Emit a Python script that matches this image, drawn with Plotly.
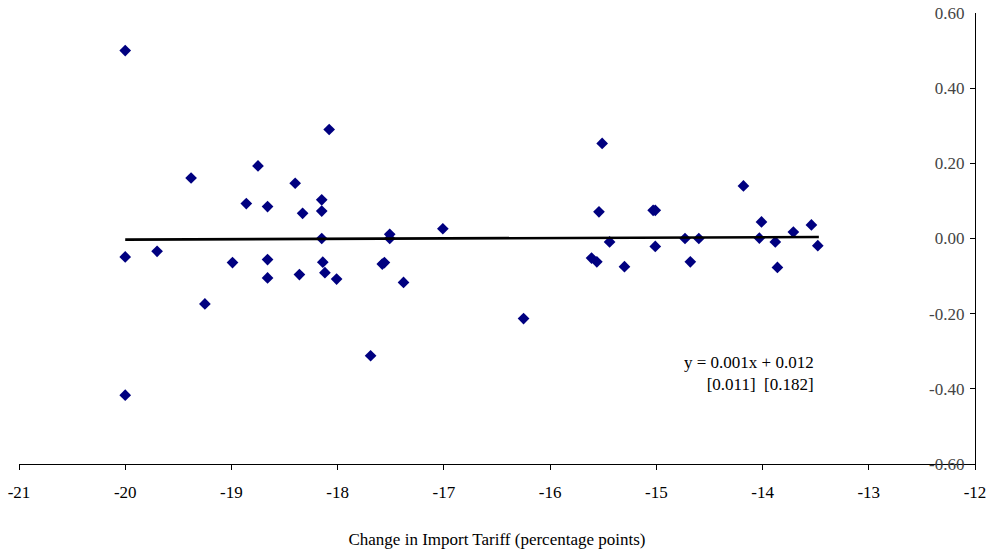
import plotly.graph_objects as go

# Scatter data: change in import tariff (pp) vs. outcome
tariff_change = [
    -20.00, -18.08, -18.75, -19.38, -18.40, -18.15, -18.86, -18.66, -18.33, -18.15,
    -18.15, -20.00, -19.70, -18.99, -18.66, -18.66, -18.36, -18.14, -18.12, -18.01,
    -19.25, -20.00, -17.51, -17.51, -17.01, -17.58, -17.56, -17.38, -16.25, -17.69,
    -15.51, -15.54, -15.03, -15.01, -15.44, -15.61, -15.56, -15.30, -15.01, -14.73,
    -14.60, -14.68, -14.18, -14.01, -14.03, -13.88, -13.86, -13.71, -13.54, -13.48,
]
outcome = [
    0.500, 0.290, 0.193, 0.161, 0.147, 0.103, 0.093, 0.085, 0.067, 0.073,
    0.000, -0.049, -0.034, -0.064, -0.056, -0.105, -0.096, -0.063, -0.091, -0.108,
    -0.174, -0.417, 0.011, 0.000, 0.026, -0.068, -0.064, -0.117, -0.213, -0.312,
    0.253, 0.071, 0.075, 0.075, -0.009, -0.052, -0.062, -0.075, -0.021, 0.000,
    0.000, -0.062, 0.140, 0.044, 0.001, -0.009, -0.077, 0.017, 0.036, -0.019,
]

# Fitted trend line endpoints
trend_x = [-20.00, -13.47]
trend_y = [-0.003, 0.004]

x_ticks = list(range(-21, -11))
x_ticktext = [str(v) for v in x_ticks]
y_ticks = [-0.60, -0.40, -0.20, 0.00, 0.20, 0.40, 0.60]
y_ticktext = ["%.2f" % v for v in y_ticks]

eq_text = "y = 0.001x + 0.012<br>[0.011]&nbsp; [0.182]"
x_title = "Change in Import Tariff (percentage points)"

FONT = "Liberation Serif, Times New Roman, serif"

fig = go.Figure()
fig.add_trace(go.Scatter(
    x=tariff_change, y=outcome, mode="markers",
    marker=dict(symbol="diamond", size=9, color="#000080", line=dict(width=0)),
    showlegend=False, hoverinfo="x+y",
))
fig.add_trace(go.Scatter(
    x=trend_x, y=trend_y, mode="lines",
    line=dict(color="black", width=2.6),
    showlegend=False, hoverinfo="skip",
))

fig.add_annotation(
    x=-13.5, y=-0.30, xref="x", yref="y",
    text=eq_text, showarrow=False, align="right",
    xanchor="right", yanchor="top",
    font=dict(family=FONT, size=17, color="black"),
)

fig.update_layout(
    width=992, height=558,
    margin=dict(l=19, r=17, t=13, b=94),
    paper_bgcolor="white", plot_bgcolor="white",
    font=dict(family=FONT, size=17, color="black"),
)
fig.update_xaxes(
    range=[-21, -12], tickvals=x_ticks, ticktext=x_ticktext,
    ticks="outside", ticklen=5, ticklabelstandoff=8,
    tickcolor="black", showline=True, linecolor="black", linewidth=1,
    showgrid=False, zeroline=False, mirror=False, automargin=False,
    title=dict(text=x_title, standoff=31, font=dict(family=FONT, size=17)),
    tickfont=dict(family=FONT, size=17),
)
fig.update_yaxes(
    range=[-0.60, 0.60], tickvals=y_ticks, ticktext=y_ticktext,
    side="right", ticks="inside", ticklen=5, tickcolor="black",
    ticklabelposition="inside", ticklabelstandoff=6, ticklabeloverflow="allow",
    showline=True, linecolor="black", linewidth=1, automargin=False,
    showgrid=False, zeroline=False,
    tickfont=dict(family=FONT, size=17),
)

fig.write_html("out.html")
